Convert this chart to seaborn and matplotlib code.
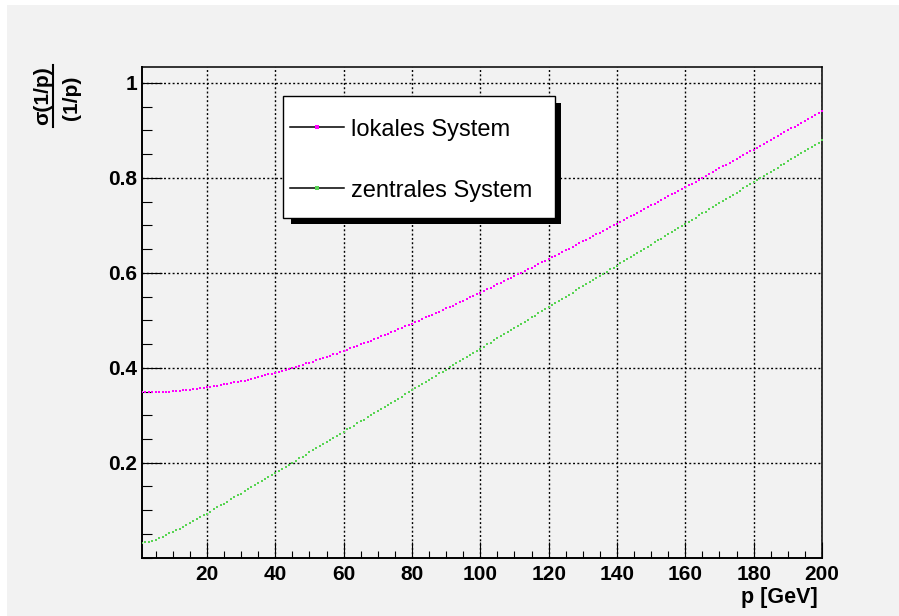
import numpy as np
import pandas as pd
import matplotlib
matplotlib.use("Agg")
import matplotlib.pyplot as plt
from matplotlib.patches import Rectangle
from matplotlib.lines import Line2D
from matplotlib.ticker import MultipleLocator
import seaborn as sns

# momentum grid and the two resolution curves
p_gev = np.arange(1, 201)

lokal = [
    0.348, 0.348, 0.348, 0.348, 0.349, 0.349, 0.349, 0.350, 0.350, 0.351,
    0.351, 0.352, 0.353, 0.353, 0.354, 0.355, 0.356, 0.357, 0.358, 0.359,
    0.360, 0.361, 0.362, 0.363, 0.365, 0.366, 0.367, 0.369, 0.370, 0.372,
    0.373, 0.375, 0.377, 0.378, 0.380, 0.382, 0.384, 0.386, 0.387, 0.389,
    0.391, 0.393, 0.395, 0.398, 0.400, 0.402, 0.404, 0.406, 0.409, 0.411,
    0.413, 0.416, 0.418, 0.420, 0.423, 0.425, 0.428, 0.430, 0.433, 0.436,
    0.438, 0.441, 0.444, 0.446, 0.449, 0.452, 0.455, 0.457, 0.460, 0.463,
    0.466, 0.469, 0.472, 0.475, 0.478, 0.481, 0.484, 0.487, 0.490, 0.493,
    0.496, 0.499, 0.502, 0.506, 0.509, 0.512, 0.515, 0.518, 0.522, 0.525,
    0.528, 0.531, 0.535, 0.538, 0.541, 0.545, 0.548, 0.552, 0.555, 0.558,
    0.562, 0.565, 0.569, 0.572, 0.576, 0.579, 0.583, 0.586, 0.590, 0.593,
    0.597, 0.600, 0.604, 0.607, 0.611, 0.615, 0.618, 0.622, 0.625, 0.629,
    0.633, 0.636, 0.640, 0.644, 0.647, 0.651, 0.655, 0.658, 0.662, 0.666,
    0.670, 0.673, 0.677, 0.681, 0.684, 0.688, 0.692, 0.696, 0.700, 0.703,
    0.707, 0.711, 0.715, 0.719, 0.722, 0.726, 0.730, 0.734, 0.738, 0.742,
    0.745, 0.749, 0.753, 0.757, 0.761, 0.765, 0.769, 0.773, 0.777, 0.780,
    0.784, 0.788, 0.792, 0.796, 0.800, 0.804, 0.808, 0.812, 0.816, 0.820,
    0.824, 0.828, 0.832, 0.836, 0.840, 0.844, 0.848, 0.852, 0.856, 0.859,
    0.863, 0.867, 0.871, 0.875, 0.879, 0.884, 0.888, 0.892, 0.896, 0.900,
    0.904, 0.908, 0.912, 0.916, 0.920, 0.924, 0.928, 0.932, 0.936, 0.940,
]

zentral = [
    0.032, 0.033, 0.034, 0.036, 0.038, 0.041, 0.044, 0.047, 0.051, 0.054,
    0.058, 0.061, 0.065, 0.069, 0.073, 0.077, 0.081, 0.085, 0.089, 0.093,
    0.097, 0.102, 0.106, 0.110, 0.114, 0.118, 0.123, 0.127, 0.131, 0.135,
    0.140, 0.144, 0.148, 0.153, 0.157, 0.161, 0.165, 0.170, 0.174, 0.178,
    0.183, 0.187, 0.191, 0.196, 0.200, 0.204, 0.209, 0.213, 0.217, 0.222,
    0.226, 0.230, 0.235, 0.239, 0.244, 0.248, 0.252, 0.257, 0.261, 0.265,
    0.270, 0.274, 0.278, 0.283, 0.287, 0.291, 0.296, 0.300, 0.305, 0.309,
    0.313, 0.318, 0.322, 0.326, 0.331, 0.335, 0.339, 0.344, 0.348, 0.353,
    0.357, 0.361, 0.366, 0.370, 0.374, 0.379, 0.383, 0.388, 0.392, 0.396,
    0.401, 0.405, 0.409, 0.414, 0.418, 0.423, 0.427, 0.431, 0.436, 0.440,
    0.444, 0.449, 0.453, 0.458, 0.462, 0.466, 0.471, 0.475, 0.480, 0.484,
    0.488, 0.493, 0.497, 0.501, 0.506, 0.510, 0.515, 0.519, 0.523, 0.528,
    0.532, 0.536, 0.541, 0.545, 0.550, 0.554, 0.558, 0.563, 0.567, 0.572,
    0.576, 0.580, 0.585, 0.589, 0.593, 0.598, 0.602, 0.607, 0.611, 0.615,
    0.620, 0.624, 0.629, 0.633, 0.637, 0.642, 0.646, 0.650, 0.655, 0.659,
    0.664, 0.668, 0.672, 0.677, 0.681, 0.686, 0.690, 0.694, 0.699, 0.703,
    0.707, 0.712, 0.716, 0.721, 0.725, 0.729, 0.734, 0.738, 0.743, 0.747,
    0.751, 0.756, 0.760, 0.764, 0.769, 0.773, 0.778, 0.782, 0.786, 0.791,
    0.795, 0.800, 0.804, 0.808, 0.813, 0.817, 0.821, 0.826, 0.830, 0.835,
    0.839, 0.843, 0.848, 0.852, 0.857, 0.861, 0.865, 0.870, 0.874, 0.879,
]

series_names = ["lokales System", "zentrales System"]
series_colors = ["#ff00ff", "#59d454"]

x_ticks = [20, 40, 60, 80, 100, 120, 140, 160, 180, 200]
x_ticklabels = ["20", "40", "60", "80", "100", "120", "140", "160", "180", "200"]
y_ticks = [0.2, 0.4, 0.6, 0.8, 1.0]
y_ticklabels = ["0.2", "0.4", "0.6", "0.8", "1"]

df = pd.DataFrame({"p": p_gev, series_names[0]: lokal, series_names[1]: zentral})

plt.rcParams["font.family"] = ["Liberation Sans", "DejaVu Sans"]

W, H = 899, 616
BG = "#f2f2f2"


def px(x, y):
    # pixel (from top-left) -> figure fraction
    return x / W, 1 - y / H


fig = plt.figure(figsize=(W / 100, H / 100), dpi=100)
fig.patch.set_facecolor("white")
fig.add_artist(Rectangle((7 / W, 0), 1 - 7 / W, 1 - 5 / H, transform=fig.transFigure,
                         facecolor=BG, edgecolor="none", zorder=-10))

ax = fig.add_axes([142 / W, (H - 557.7) / H, 680 / W, 491 / H])
ax.set_facecolor(BG)

for name, col in zip(series_names, series_colors):
    sns.scatterplot(data=df, x="p", y=name, ax=ax, color=col, marker="s",
                    s=3.2, linewidth=0, zorder=3, antialiased=False)

ax.set_xlim(1, 200)
ax.set_ylim(0, 1.034)
ax.set_xticks(x_ticks)
ax.set_xticklabels(x_ticklabels, fontweight="bold")
ax.set_yticks(y_ticks)
ax.set_yticklabels(y_ticklabels, fontweight="bold")
ax.xaxis.set_minor_locator(MultipleLocator(5))
ax.yaxis.set_minor_locator(MultipleLocator(0.05))
ax.set_xlabel("")
ax.set_ylabel("")

ax.grid(which="major", color="black", linestyle=(0, (1.4, 1.7)), linewidth=1.0, zorder=1)
ax.set_axisbelow(True)

ax.tick_params(axis="x", which="major", direction="in", length=11.5, width=0.8,
               pad=5, labelsize=15, top=False)
ax.tick_params(axis="x", which="minor", direction="in", length=5.4, width=0.8, top=False)
ax.tick_params(axis="y", which="major", direction="in", length=14.4, width=0.8,
               pad=3.6, labelsize=15, right=False)
ax.tick_params(axis="y", which="minor", direction="in", length=7.2, width=0.8, right=False)

for side in ["left", "bottom"]:
    ax.spines[side].set_linewidth(1.4)
for side in ["top", "right"]:
    ax.spines[side].set_linewidth(1.1)

# legend box with ROOT-style shadow
fig.add_artist(Rectangle(px(291, 224), 270 / W, 121 / H, transform=fig.transFigure,
                         facecolor="black", edgecolor="none", zorder=5))
fig.add_artist(Rectangle(px(283, 218), 272 / W, 122 / H, transform=fig.transFigure,
                         facecolor="white", edgecolor="black", linewidth=1.0, zorder=6))
for i, (name, col) in enumerate(zip(series_names, series_colors)):
    yc = 127 + 61 * i
    fig.add_artist(Line2D([290 / W, 344 / W], [1 - yc / H] * 2, transform=fig.transFigure,
                          color="black", linewidth=1.1, zorder=7))
    fig.add_artist(Line2D([317 / W], [1 - yc / H], transform=fig.transFigure, marker="s",
                          markersize=2.5, color=col, markeredgewidth=0, zorder=8))
    fig.text(351 / W, 1 - (135.7 + 61 * i) / H, name, fontsize=17, va="baseline",
             ha="left", zorder=8)

# y title as a fraction
fig.text(*px(43, 96), "σ(1/p)", rotation=90, ha="center", va="center",
         fontsize=15, fontweight="bold")
fig.text(*px(72, 97.5), "(1/p)", rotation=90, ha="center", va="center",
         fontsize=15, fontweight="bold")
fig.add_artist(Line2D([53 / W] * 2, [1 - 65 / H, 1 - 127 / H], transform=fig.transFigure,
                      color="black", linewidth=1.5))

# x title
fig.text(*px(818, 603.5), "p [GeV]", ha="right", va="baseline",
         fontsize=15.5, fontweight="bold")

fig.savefig("out.png", dpi=100)
